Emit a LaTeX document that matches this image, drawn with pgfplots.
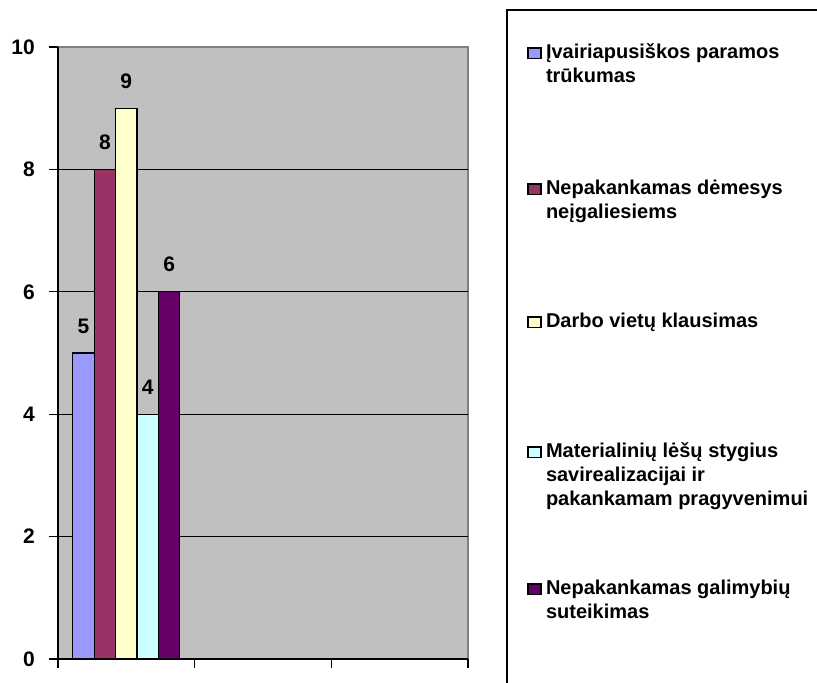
\documentclass[border=0pt]{standalone}
\usepackage{fontspec}
\setmainfont{Liberation Sans}
\usepackage{pgfplots}
\pgfplotsset{compat=1.18}
\definecolor{cA}{HTML}{9999FF}
\definecolor{cB}{HTML}{993366}
\definecolor{cC}{HTML}{FFFFCC}
\definecolor{cD}{HTML}{CCFFFF}
\definecolor{cE}{HTML}{660066}
\definecolor{bgc}{HTML}{C0C0C0}
\definecolor{brd}{HTML}{808080}
\newcommand{\tickfont}{\fontsize{21}{24}\selectfont\bfseries}
\newcommand{\legfont}{\fontsize{20}{24}\selectfont\bfseries}
\newcommand{\lent}[2]{\hspace*{4pt}\parbox[t]{290pt}{\raggedright\rule{0pt}{16pt}#1\rule[-#2]{0pt}{#2}}}
\begin{document}
\begin{tikzpicture}
\useasboundingbox (0,0) rectangle (817pt,683pt);
\draw[line width=2pt] (507pt,-10pt) rectangle (830pt,673pt);
\begin{axis}[
  at={(58pt,24pt)}, anchor=south west,
  width=410pt, height=612pt, scale only axis,
  xmin=-0.5, xmax=2.5, ymin=0, ymax=10,
  axis lines*=left,
  axis line style={-, black, line width=1.3pt},
  axis background/.style={fill=bgc, draw=brd, line width=1.3pt},
  xtick={-0.5,0.5,1.5,2.5}, xticklabels={},
  ytick={0,2,4,6,8,10},
  extra y ticks={2,4,6,8}, extra y tick labels={},
  extra y tick style={grid=major, major tick length=0pt},
  major grid style={black, line width=1.3pt},
  tick align=outside, major tick length=9pt,
  tick style={black, line width=1.3pt},
  /pgf/number format/assume math mode=true,
  ticklabel style={font=\tickfont},
  yticklabel style={inner sep=0pt, xshift=-14pt},
  ybar=0pt, bar width=21.4pt,
  nodes near coords,
  every node near coord/.append style={font=\tickfont, inner sep=0pt, anchor=south, yshift=19pt},
  every axis plot post/.append style={legend image code/.code={\draw[##1, line width=1.6pt] (0pt,0.3pt) rectangle (13pt,10.8pt);}},
  legend style={at={(1.14488,1.00654)}, anchor=north west, draw=none, fill=none,
    inner sep=0pt, outer sep=0pt, row sep=0pt, column sep=0pt,
    nodes={inner sep=0pt, text depth=}, cells={anchor=base west}, font=\legfont},
]
\addplot[fill=cA, draw=black, line width=1.2pt] coordinates {(0,5)};
\addlegendentry{\lent{Įvairiapusiškos paramos\newline trūkumas}{96pt}}
\addplot[fill=cB, draw=black, line width=1.2pt] coordinates {(0,8)};
\addlegendentry{\lent{Nepakankamas dėmesys\newline neįgaliesiems}{93pt}}
\addplot[fill=cC, draw=black, line width=1.2pt] coordinates {(0,9)};
\addlegendentry{\lent{Darbo vietų klausimas}{114pt}}
\addplot[fill=cD, draw=black, line width=1.2pt] coordinates {(0,4)};
\addlegendentry{\lent{Materialinių lėšų stygius\newline savirealizacijai ir\newline pakankamam pragyvenimui}{73pt}}
\addplot[fill=cE, draw=black, line width=1.2pt] coordinates {(0,6)};
\addlegendentry{\lent{Nepakankamas galimybių\newline suteikimas}{0pt}}
\end{axis}
\end{tikzpicture}
\end{document}
